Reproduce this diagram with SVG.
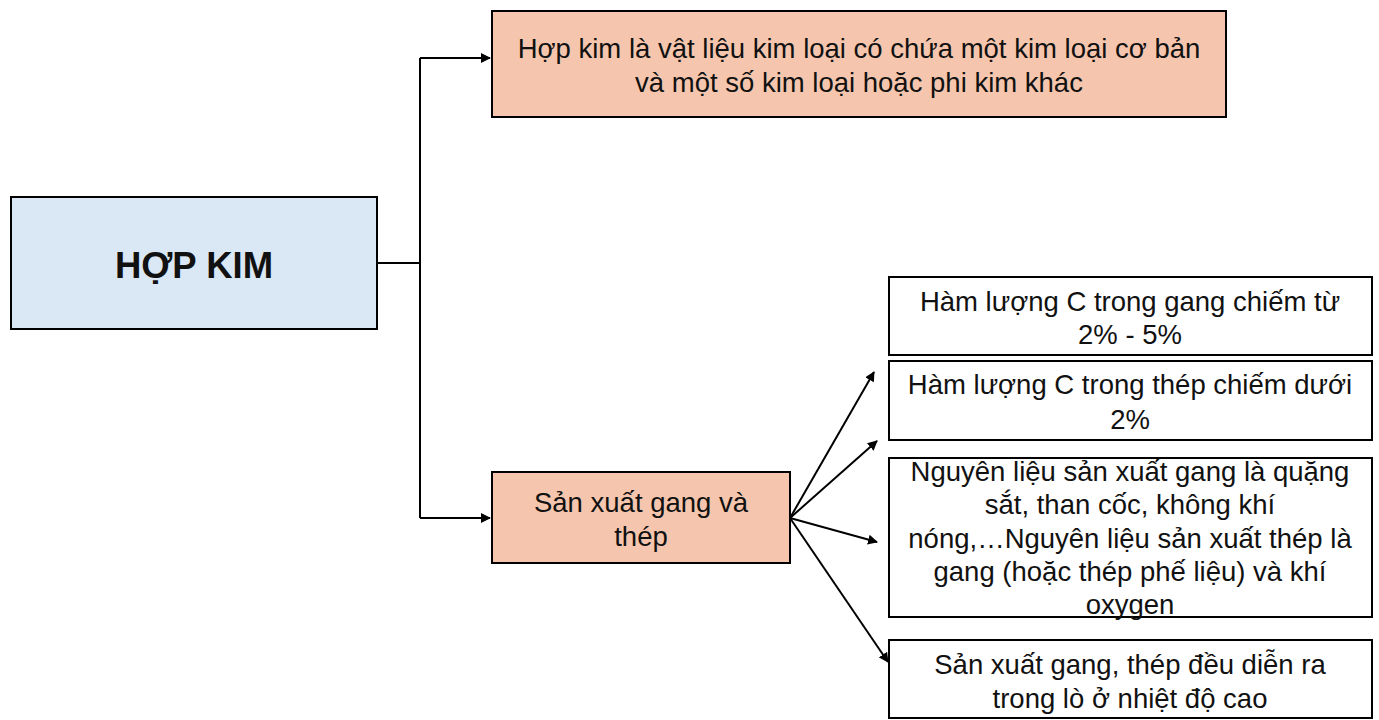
<svg xmlns="http://www.w3.org/2000/svg" width="1379" height="720" viewBox="0 0 1379 720">
<style>
.box{stroke:#000;stroke-width:2}
.blue{fill:#dae8f5}
.sal{fill:#f5c6ad}
.wht{fill:#fff}
.t{font-family:"Liberation Sans",Arial,sans-serif;fill:#111;text-anchor:middle;font-size:27.5px}
.c{fill:none;stroke:#000;stroke-width:2}
</style>
<defs>
<marker id="ah" viewBox="0 0 10 10" refX="9" refY="5" markerWidth="5" markerHeight="5" orient="auto" markerUnits="strokeWidth">
<path d="M0,0 L10,5 L0,10 z" fill="#000"/>
</marker>
</defs>
<rect width="1379" height="720" fill="#fff"/>
<g id="connectors">
<path class="c" d="M377,263 H420"/>
<path class="c" d="M420,58 V518"/>
<path class="c" d="M420,58 H490" marker-end="url(#ah)"/>
<path class="c" d="M420,518 H490" marker-end="url(#ah)"/>
<path class="c" d="M790,518 L874,372" marker-end="url(#ah)"/>
<path class="c" d="M790,518 L877,441" marker-end="url(#ah)"/>
<path class="c" d="M790,518 L877,542" marker-end="url(#ah)"/>
<path class="c" d="M790,518 L888,662" marker-end="url(#ah)"/>
</g>
<g id="hopkim">
<rect class="box blue" x="11" y="197" width="366" height="132"/>
<text class="t" x="194" y="278" style="font-size:36.5px;font-weight:bold">HỢP KIM</text>
</g>
<g id="dinhnghia">
<rect class="box sal" x="492" y="11" width="734" height="106"/>
<text class="t" x="859" y="58">Hợp kim là vật liệu kim loại có chứa một kim loại cơ bản</text>
<text class="t" x="859" y="92">và một số kim loại hoặc phi kim khác</text>
</g>
<g id="sanxuat">
<rect class="box sal" x="492" y="472" width="298" height="91"/>
<text class="t" x="641" y="512">Sản xuất gang và</text>
<text class="t" x="641" y="546">thép</text>
</g>
<g id="gang">
<rect class="box wht" x="889" y="277" width="483" height="78"/>
<text class="t" x="1130" y="311">Hàm lượng C trong gang chiếm từ</text>
<text class="t" x="1130" y="344">2% - 5%</text>
</g>
<g id="thep">
<rect class="box wht" x="889" y="361" width="483" height="79"/>
<text class="t" x="1130" y="394">Hàm lượng C trong thép chiếm dưới</text>
<text class="t" x="1130" y="429">2%</text>
</g>
<g id="nguyenlieu">
<rect class="box wht" x="889" y="458" width="483" height="159"/>
<text class="t" x="1130" y="481">Nguyên liệu sản xuất gang là quặng</text>
<text class="t" x="1130" y="514">sắt, than cốc, không khí</text>
<text class="t" x="1130" y="548">nóng,…Nguyên liệu sản xuất thép là</text>
<text class="t" x="1130" y="581">gang (hoặc thép phế liệu) và khí</text>
<text class="t" x="1130" y="614">oxygen</text>
</g>
<g id="nhietdo">
<rect class="box wht" x="889" y="640" width="483" height="78"/>
<text class="t" x="1130" y="674">Sản xuất gang, thép đều diễn ra</text>
<text class="t" x="1130" y="708">trong lò ở nhiệt độ cao</text>
</g>
</svg>
